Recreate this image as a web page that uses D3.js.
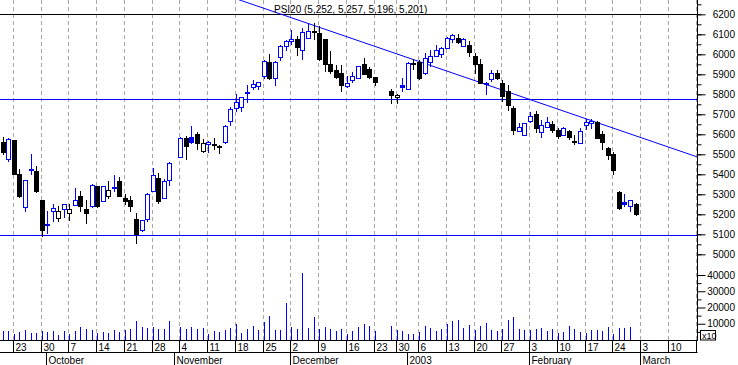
<!DOCTYPE html>
<html><head><meta charset="utf-8">
<script src="https://cdn.jsdelivr.net/npm/d3@7/dist/d3.min.js"></script>
<style>
body{margin:0;background:#fff}
svg{display:block}
text{font-family:"Liberation Sans",Arial,sans-serif;font-size:10px;fill:#000}
</style></head><body>
<svg id="chart" width="738" height="365"></svg>
<script>
// ---------- data ----------
const seriesName = "PSI20";
const axisStart = "2002-09-19";
const axisEnd = "2003-03-17";
const nonSlotDays = ["2002-12-25", "2003-01-01"];
const tradingDays = [
"2002-09-19","2002-09-20","2002-09-23","2002-09-24","2002-09-25","2002-09-26","2002-09-27","2002-09-30",
"2002-10-01","2002-10-02","2002-10-03","2002-10-04","2002-10-07","2002-10-08","2002-10-09","2002-10-10","2002-10-11",
"2002-10-14","2002-10-15","2002-10-16","2002-10-17","2002-10-18","2002-10-21","2002-10-22","2002-10-23","2002-10-24","2002-10-25",
"2002-10-28","2002-10-29","2002-10-30","2002-10-31",
"2002-11-04","2002-11-05","2002-11-06","2002-11-07","2002-11-08","2002-11-11","2002-11-12","2002-11-13","2002-11-14","2002-11-15",
"2002-11-18","2002-11-19","2002-11-20","2002-11-21","2002-11-22","2002-11-25","2002-11-26","2002-11-27","2002-11-28","2002-11-29",
"2002-12-02","2002-12-03","2002-12-04","2002-12-05","2002-12-06","2002-12-09","2002-12-10","2002-12-11","2002-12-12","2002-12-13",
"2002-12-16","2002-12-17","2002-12-18","2002-12-19","2002-12-20","2002-12-23","2002-12-27","2002-12-30","2002-12-31",
"2003-01-02","2003-01-03","2003-01-06","2003-01-07","2003-01-08","2003-01-09","2003-01-10","2003-01-13","2003-01-14","2003-01-15",
"2003-01-16","2003-01-17","2003-01-20","2003-01-21","2003-01-22","2003-01-23","2003-01-24","2003-01-27","2003-01-28","2003-01-29",
"2003-01-30","2003-01-31","2003-02-03","2003-02-04","2003-02-05","2003-02-06","2003-02-07","2003-02-10","2003-02-11","2003-02-12",
"2003-02-13","2003-02-14","2003-02-17","2003-02-18","2003-02-19","2003-02-20","2003-02-21","2003-02-24","2003-02-25","2003-02-26",
"2003-02-27","2003-02-28"];
const openP = [5563,5479,5570,5400,5238,5428,5415,5271,5146,5215,5180,5225,5205,5249,5291,5225,5241,5340,5267,5293,5338,5367,5281,5272,5176,5121,5176,5317,5379,5282,5372,
5489,5583,5588,5600,5516,5553,5552,5543,5561,5666,5732,5737,5808,5837,5843,5893,5961,5881,5987,6044,6064,6077,6020,6081,6118,6106,6078,5953,5923,5906,
5840,5873,5884,5953,5928,5885,5818,5786,5848,5828,5955,5964,5906,5961,5994,6004,6031,6075,6084,6042,6047,5989,5951,5855,5878,5906,5857,5815,5732,5619,5599,
5666,5702,5611,5638,5653,5624,5599,5619,5567,5558,5649,5654,5661,5604,5530,5500,5314,5264,5242,5252];
const highP = [5586,5580,5572,5429,5370,5503,5443,5272,5215,5251,5242,5253,5254,5334,5317,5271,5352,5342,5342,5367,5399,5384,5301,5292,5209,5173,5306,5434,5405,5375,5461,
5585,5591,5644,5614,5578,5565,5580,5545,5645,5737,5802,5787,5848,5872,5864,5970,6001,5966,6047,6069,6120,6093,6130,6158,6155,6140,5989,6017,5948,5948,
5893,5911,5944,5984,5939,5889,5828,5803,5881,5964,5977,5972,6006,6022,6047,6039,6085,6100,6100,6080,6064,6006,5977,5860,5923,5923,5873,5848,5740,5654,5656,
5710,5715,5674,5685,5668,5632,5635,5624,5599,5633,5677,5677,5666,5616,5538,5511,5316,5304,5273,5257];
const lowP = [5500,5467,5400,5285,5215,5404,5313,5090,5105,5168,5168,5185,5173,5246,5217,5156,5238,5236,5265,5281,5317,5290,5254,5218,5057,5119,5166,5315,5256,5280,5347,
5487,5479,5559,5525,5514,5511,5528,5508,5555,5649,5715,5715,5762,5825,5828,5881,5879,5845,5973,6022,6051,5997,5976,6080,6077,5970,5918,5909,5880,5815,
5838,5860,5882,5901,5883,5848,5757,5757,5818,5826,5928,5879,5904,5944,5992,5987,6029,6063,6059,6040,5989,5906,5855,5803,5865,5879,5765,5724,5600,5617,5597,
5664,5611,5586,5636,5611,5583,5597,5578,5554,5556,5628,5633,5581,5528,5475,5400,5226,5242,5217,5196];
const closeP = [5511,5578,5402,5290,5370,5423,5318,5123,5150,5230,5215,5251,5225,5274,5242,5205,5349,5241,5340,5321,5332,5292,5267,5242,5101,5171,5304,5397,5267,5365,5459,
5583,5541,5561,5558,5555,5563,5548,5535,5641,5727,5762,5785,5812,5853,5862,5968,5881,5964,6041,6067,6077,6037,6110,6118,6113,5976,5951,5919,5885,5845,
5857,5893,5942,5903,5885,5860,5798,5795,5837,5956,5951,5881,5984,5993,6022,6031,6081,6097,6061,6076,6011,5951,5857,5858,5906,5881,5790,5749,5624,5635,5654,
5694,5632,5649,5662,5621,5591,5633,5588,5565,5616,5661,5666,5583,5561,5495,5422,5231,5254,5271,5201];
const volume = [5800,5800,3700,4900,6200,4300,4300,5600,4900,5400,3100,5600,3700,5600,7800,6800,6200,4300,4900,4300,6200,4900,6200,6800,11700,7800,7400,7800,6600,6800,11700,
7800,6800,7800,7000,7200,3700,5600,4900,6200,7200,9900,4300,6600,8600,6200,11100,14800,6200,6200,23000,7800,6800,41500,7400,14200,6800,7800,6800,5600,6800,
3700,5600,7800,9900,8500,5800,8600,6400,5600,3700,3700,4900,8600,7400,5600,6800,9900,11700,12300,7400,9300,6200,8600,10500,6200,5600,6800,12300,14200,6800,6200,
6400,6800,7400,5600,6800,4300,4900,8600,6800,4900,4300,6200,6200,5600,8000,3700,7400,7400,8000,null];
const levelLines = [6200, 5778, 5095];
const trendFrom = ["2002-11-18", 6278];
const trendTo = ["2003-03-17", 5488];
const priceTickLabels = [5000,5100,5200,5300,5400,5500,5600,5700,5800,5900,6000,6100,6200];
const volumeTickLabels = [10000,20000,30000,40000];
const monthLabels = [["2002-10-01","October"],["2002-11-01","November"],["2002-12-02","December"],
                     ["2003-01-02","2003"],["2003-02-03","February"],["2003-03-03","March"]];

// ---------- layout ----------
const W = 738, H = 365;
const plotRight = 697, plotBottom = 340;
const BLUE = "#0000ff", BLACK = "#000000", GRID = "#a8a8a8";

const parse = d3.utcParse("%Y-%m-%d"), fmtD = d3.utcFormat("%Y-%m-%d");
const slots = [];
for (let d = parse(axisStart); d <= parse(axisEnd); d = d3.utcDay.offset(d, 1)) {
  const wd = d.getUTCDay();
  if (wd === 0 || wd === 6) continue;
  if (nonSlotDays.includes(fmtD(d))) continue;
  slots.push(fmtD(d));
}
const slotIndex = new Map(slots.map((s, i) => [s, i]));

const x = d3.scaleLinear().domain([-0.5, slots.length - 1 + 0.08]).range([0, plotRight]);
const yP = d3.scaleLinear().domain([5000, 6200]).range([254.3, 14.3]);
const yV = d3.scaleLinear().domain([0, 40000]).range([plotBottom, 275]);
const px = i => Math.round(x(i)) + 0.5;

const svg = d3.select("#chart");
svg.append("rect").attr("width", W).attr("height", H).attr("fill", "#fff");

const mondays = slots.map((s, i) => ({s, i})).filter(o => parse(o.s).getUTCDay() === 1);

// grid
svg.append("g").selectAll("line").data(mondays).join("line")
  .attr("x1", d => px(d.i) - 1).attr("x2", d => px(d.i) - 1)
  .attr("y1", 0).attr("y2", plotBottom)
  .attr("stroke", GRID).attr("stroke-dasharray", "4,3").attr("stroke-width", 1);

// level lines
svg.append("g").selectAll("line").data(levelLines).join("line")
  .attr("x1", 0).attr("x2", plotRight)
  .attr("y1", d => Math.round(yP(d)) + 0.5).attr("y2", d => Math.round(yP(d)) + 0.5)
  .attr("stroke", d => d === 6200 ? BLACK : BLUE).attr("stroke-width", 1);

// trend line (clipped to plot)
svg.append("clipPath").attr("id", "pc").append("rect").attr("x", 0).attr("y", 0).attr("width", plotRight).attr("height", plotBottom);
svg.append("line").attr("clip-path", "url(#pc)")
  .attr("x1", x(slotIndex.get(trendFrom[0]))).attr("y1", yP(trendFrom[1]))
  .attr("x2", x(slotIndex.get(trendTo[0]))).attr("y2", yP(trendTo[1]))
  .attr("stroke", BLUE).attr("stroke-width", 1);

// candles
const bars = tradingDays.map((d, k) => ({
  i: slotIndex.get(d), o: openP[k], h: highP[k], l: lowP[k], c: closeP[k], v: volume[k],
  prev: k > 0 ? closeP[k - 1] : openP[k]
}));
const cg = svg.append("g");
bars.forEach(b => {
  const col = b.c > b.prev ? BLUE : BLACK;
  const filled = b.c < b.o;
  const cx = px(b.i);
  const top = Math.round(yP(Math.max(b.o, b.c))), bot = Math.round(yP(Math.min(b.o, b.c)));
  cg.append("line").attr("x1", cx).attr("x2", cx)
    .attr("y1", Math.round(yP(b.h))).attr("y2", Math.round(yP(b.l)) + 1)
    .attr("stroke", col);
  const hgt = Math.max(1, bot - top);
  cg.append("rect").attr("x", cx - 2).attr("y", top + 0.5)
    .attr("width", 4).attr("height", hgt)
    .attr("fill", filled ? col : "#fff").attr("stroke", col).attr("stroke-width", 1);
});

// volume
svg.append("g").selectAll("line").data(bars.filter(b => b.v != null)).join("line")
  .attr("x1", d => px(d.i)).attr("x2", d => px(d.i))
  .attr("y1", plotBottom).attr("y2", d => Math.round(yV(d.v)))
  .attr("stroke", BLUE).attr("stroke-width", 1);

// title
const last = bars[bars.length - 1];
const f = d3.format(",");
svg.append("text").attr("x", 274).attr("y", 12.5)
  .text(`${seriesName} (${f(last.o)}, ${f(last.h)}, ${f(last.l)}, ${f(last.c)})`);

// right axis
const ax = svg.append("g").attr("transform", `translate(${plotRight + 0.5},0)`);
const minorP = d3.range(5000, 6251, 50);
ax.append("g").call(d3.axisRight(yP).tickValues(minorP).tickSize(4).tickFormat(""))
  .call(g => g.select(".domain").remove());
ax.append("g").call(d3.axisRight(yV).tickValues([5000,15000,25000,35000]).tickSize(4).tickFormat(""))
  .call(g => g.select(".domain").remove());
const pAx = ax.append("g").call(d3.axisRight(yP).tickValues(priceTickLabels).tickSize(8).tickFormat(d3.format("d")));
pAx.select(".domain").remove();
const vAx = ax.append("g").call(d3.axisRight(yV).tickValues(volumeTickLabels).tickSize(8).tickFormat(d3.format("d")));
vAx.select(".domain").remove();
ax.selectAll("text").attr("x", 37.5).attr("text-anchor", "end")
  .style("font-family", '"Liberation Sans",Arial,sans-serif').style("font-size", "10px");
ax.selectAll(".tick line").attr("stroke", BLACK);
ax.append("line").attr("x1", 0).attr("x2", 0).attr("y1", 0).attr("y2", plotBottom).attr("stroke", BLACK);
ax.append("rect").attr("x", 3).attr("y", 330.5).attr("width", 15).attr("height", 9.5)
  .attr("fill", "#fff").attr("stroke", BLACK);
ax.append("text").attr("x", 4.5).attr("y", 338.5).style("font-size", "9px").text("x10");

// bottom axis
const bg = svg.append("g");
bg.append("line").attr("x1", 0).attr("x2", plotRight + 1).attr("y1", plotBottom + 0.5).attr("y2", plotBottom + 0.5).attr("stroke", BLACK);
bg.append("line").attr("x1", 0).attr("x2", px(slots.length - 1)).attr("y1", 352.5).attr("y2", 352.5).attr("stroke", BLACK);
bg.selectAll("line.dt").data(mondays).join("line").attr("class", "dt")
  .attr("x1", d => px(d.i) - 1).attr("x2", d => px(d.i) - 1)
  .attr("y1", plotBottom).attr("y2", 353).attr("stroke", BLACK);
bg.selectAll("text.dl").data(mondays.filter(d => x(d.i) < 680)).join("text").attr("class", "dl")
  .attr("x", d => px(d.i) + 1).attr("y", 351)
  .text(d => +d.s.slice(8));
const months = monthLabels.map(([d, t]) => ({i: slotIndex.get(d), t}));
bg.selectAll("line.mt").data(months).join("line").attr("class", "mt")
  .attr("x1", d => px(d.i) - 1).attr("x2", d => px(d.i) - 1)
  .attr("y1", 353).attr("y2", 365).attr("stroke", BLACK);
bg.selectAll("text.ml").data(months).join("text").attr("class", "ml")
  .attr("x", d => px(d.i) + 1).attr("y", 363.5).text(d => d.t);
</script></body></html>
